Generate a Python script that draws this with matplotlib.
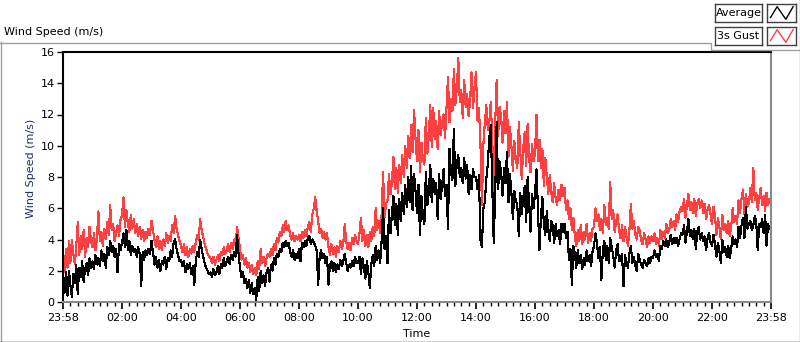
"""Wind speed chart: average and 3 s gust over one day."""

import numpy as np
import matplotlib
matplotlib.use("Agg")
import matplotlib.pyplot as plt
from matplotlib.lines import Line2D

W, H = 800, 342

# values, one row per hour, 3 minute steps from 23:58
GUST = [
    2.6, 1.9, 3.4, 2.2, 3.9, 2.5, 4.0, 3.1, 2.4, 3.6, 5.1, 3.0, 4.2, 3.4, 4.6, 2.9, 4.1, 3.5, 4.8, 3.9,
    3.5, 4.4, 3.3, 4.1, 5.8, 3.9, 4.5, 3.6, 4.7, 4.0, 5.1, 4.3, 6.2, 4.6, 5.0, 3.9, 4.4, 4.9, 4.2, 5.3,
    5.5, 6.7, 4.8, 5.9, 5.0, 4.5, 5.6, 4.7, 5.3, 4.4, 5.0, 4.2, 4.8, 4.0, 4.6, 3.9, 4.5, 4.1, 4.7, 4.3,
    5.2, 4.6, 4.0, 3.5, 4.2, 3.4, 3.9, 3.3, 4.0, 3.6, 4.4, 3.8, 4.2, 3.9, 4.9, 4.4, 5.5, 4.7, 4.3, 3.9,
    3.6, 3.2, 3.7, 3.0, 3.5, 2.9, 3.4, 3.1, 3.6, 3.2, 3.8, 4.3, 4.0, 5.3, 4.6, 4.2, 3.7, 3.4, 3.1, 2.9,
    2.8, 2.5, 2.9, 2.4, 2.7, 3.0, 2.6, 3.2, 3.0, 3.5, 3.1, 3.3, 3.7, 3.2, 3.8, 3.4, 4.0, 3.6, 4.8, 4.1,
    3.4, 2.7, 3.0, 2.4, 2.8, 2.2, 2.5, 1.9, 2.4, 1.8, 2.2, 1.7, 2.6, 2.1, 3.4, 2.5, 2.9, 2.3, 2.8, 3.1,
    2.9, 3.4, 3.0, 3.7, 3.3, 4.1, 3.8, 4.5, 4.2, 4.9, 4.5, 5.2, 4.6, 4.9, 4.3, 4.0, 4.4, 3.9, 4.2, 4.0,
    4.3, 3.9, 4.5, 4.1, 4.6, 4.2, 4.8, 5.1, 4.5, 5.6, 6.0, 6.7, 5.8, 5.2, 4.4, 4.7, 4.1, 4.5, 4.0, 4.4,
    3.5, 3.0, 3.7, 3.1, 3.5, 2.9, 3.6, 3.2, 3.9, 3.4, 3.7, 5.0, 3.9, 3.4, 3.8, 3.3, 4.1, 3.7, 4.3, 3.9,
    3.7, 4.4, 5.4, 3.9, 4.6, 3.6, 4.3, 3.5, 4.5, 3.9, 4.8, 4.2, 6.0, 4.6, 5.2, 4.4, 5.6, 8.3, 5.4, 6.3,
    6.5, 8.2, 6.9, 7.6, 9.3, 7.2, 8.6, 7.0, 8.8, 7.6, 9.4, 8.0, 10.0, 8.6, 10.6, 9.2, 11.3, 9.6, 12.3, 10.4,
    9.0, 11.0, 8.3, 10.2, 9.1, 8.8, 11.8, 9.5, 10.6, 12.6, 9.9, 12.4, 10.4, 11.6, 9.8, 12.2, 10.7, 11.4, 12.0, 10.5,
    12.4, 14.4, 11.5, 13.0, 12.2, 14.9, 12.6, 13.7, 15.6, 12.8, 13.6, 11.8, 14.2, 12.5, 13.3, 11.9, 12.9, 14.7, 12.4, 13.8,
    14.7, 11.6, 12.4, 10.2, 6.2, 10.1, 11.5, 12.6, 11.0, 11.5, 12.8, 10.6, 6.4, 11.4, 14.2, 10.6, 12.5, 11.9, 10.2, 12.2,
    10.8, 12.8, 9.3, 11.2, 10.0, 8.4, 10.3, 9.1, 8.6, 11.5, 9.7, 7.9, 9.8, 10.9, 8.7, 11.4, 9.2, 8.3, 10.1, 9.0,
    9.5, 12.0, 9.0, 10.4, 8.6, 9.8, 7.4, 9.2, 8.0, 6.9, 8.1, 7.0, 6.4, 7.6, 6.6, 6.2, 7.2, 6.5, 7.5, 6.8,
    7.3, 5.9, 6.5, 5.3, 6.0, 4.6, 5.4, 4.2, 3.6, 4.6, 3.9, 4.9, 3.7, 4.5, 4.0, 5.0, 3.8, 4.4, 3.9, 4.7,
    4.8, 6.0, 5.2, 5.6, 4.6, 5.3, 4.4, 6.2, 4.9, 5.4, 4.7, 7.7, 5.3, 5.9, 4.5, 5.1, 5.6, 4.6, 4.1, 4.9,
    3.9, 4.8, 4.2, 3.6, 4.6, 6.3, 4.7, 5.2, 4.3, 4.0, 4.8, 4.6, 3.9, 3.7, 4.4, 4.0, 3.5, 4.2, 3.8, 4.2,
    3.9, 4.4, 3.7, 4.1, 3.6, 4.6, 4.0, 4.5, 4.1, 5.0, 4.4, 4.6, 5.3, 4.8, 5.2, 4.6, 5.6, 5.1, 5.8, 6.1,
    5.8, 6.6, 5.4, 6.2, 6.9, 5.9, 6.4, 5.7, 6.6, 5.5, 6.3, 6.6, 6.0, 6.5, 5.7, 6.3, 5.3, 5.9, 6.2, 5.6,
    5.0, 6.1, 5.5, 4.3, 5.4, 4.8, 4.0, 5.6, 4.6, 5.0, 4.4, 5.2, 4.2, 4.8, 6.0, 5.1, 5.5, 5.0, 6.5, 5.7,
    6.6, 7.2, 5.6, 6.9, 6.1, 6.3, 7.3, 6.4, 8.6, 6.5, 7.0, 5.9, 6.7, 7.3, 6.2, 6.8, 5.8, 7.0, 6.2, 6.6, 6.4,
]

AVERAGE = [
    1.5, 0.6, 1.9, 0.4, 2.0, 1.1, 0.3, 1.8, 1.2, 2.4, 0.5, 2.2, 1.6, 2.6, 1.3, 2.1, 2.5, 1.7, 2.8, 2.2,
    2.6, 2.1, 3.0, 2.4, 2.8, 2.3, 3.3, 2.6, 3.1, 2.2, 3.5, 3.0, 3.9, 3.2, 3.6, 2.9, 3.4, 1.9, 3.7, 3.3,
    3.8, 4.4, 3.5, 4.6, 3.3, 3.9, 3.0, 3.6, 3.2, 3.4, 2.9, 3.5, 3.1, 1.0, 3.2, 2.7, 3.3, 3.0, 3.4, 3.1,
    3.9, 3.2, 2.4, 2.9, 2.2, 2.7, 2.0, 2.6, 2.4, 2.9, 2.1, 2.8, 2.6, 3.3, 2.9, 3.8, 4.0, 3.4, 3.0, 2.6,
    2.7, 2.3, 2.6, 1.9, 2.4, 2.1, 2.5, 1.8, 2.3, 1.1, 2.6, 3.2, 2.9, 4.0, 3.4, 2.9, 2.5, 2.2, 2.0, 1.8,
    1.9, 1.6, 2.1, 1.7, 1.9, 2.3, 1.8, 2.4, 2.2, 2.8, 2.3, 2.6, 2.9, 2.4, 3.0, 2.7, 3.2, 2.9, 4.3, 3.1,
    2.2, 1.6, 1.9, 1.2, 1.5, 0.9, 1.4, 0.6, 1.2, 0.5, 0.9, 0.1, 1.6, 0.7, 2.0, 1.2, 1.7, 1.0, 1.9, 2.2,
    1.3, 2.4, 2.0, 2.8, 2.4, 3.1, 2.9, 3.4, 3.2, 3.8, 3.5, 3.9, 3.6, 3.8, 3.2, 2.9, 3.3, 2.7, 3.1, 2.8,
    3.4, 2.6, 3.8, 3.5, 3.9, 3.6, 4.1, 4.2, 3.7, 4.0, 3.8, 3.6, 3.3, 1.1, 2.9, 3.3, 2.8, 3.1, 2.5, 2.9,
    1.1, 2.4, 2.6, 2.0, 2.5, 1.9, 2.4, 2.1, 2.7, 2.3, 2.6, 3.1, 2.5, 2.0, 2.4, 2.2, 2.6, 2.3, 2.9, 2.5,
    2.5, 2.9, 1.8, 2.8, 2.2, 1.5, 2.6, 1.9, 0.9, 2.4, 3.0, 2.3, 3.6, 2.7, 3.3, 2.5, 3.9, 6.0, 3.4, 4.2,
    2.5, 5.9, 4.4, 5.6, 6.8, 4.9, 6.3, 4.3, 6.6, 5.2, 7.0, 5.6, 7.5, 6.1, 8.0, 6.4, 8.7, 5.9, 8.2, 7.1,
    5.7, 7.5, 4.3, 6.8, 5.5, 5.0, 8.3, 6.2, 7.0, 8.8, 6.4, 7.9, 6.9, 7.6, 5.3, 8.2, 6.6, 7.4, 8.5, 6.8,
    7.5, 4.7, 9.8, 8.3, 7.8, 11.1, 7.4, 8.9, 9.4, 8.0, 8.6, 7.6, 9.2, 7.9, 8.8, 6.9, 8.1, 7.2, 8.5, 8.0,
    8.0, 7.2, 8.1, 4.0, 3.5, 6.0, 6.4, 7.9, 8.8, 10.5, 11.3, 7.5, 3.8, 6.8, 11.5, 7.2, 9.0, 8.3, 6.8, 8.6,
    7.6, 9.6, 6.4, 8.2, 7.0, 5.3, 7.1, 6.5, 6.2, 4.2, 7.0, 5.6, 6.6, 7.4, 5.1, 8.0, 6.2, 4.5, 6.9, 6.0,
    6.9, 8.5, 5.8, 3.3, 5.4, 6.7, 5.0, 4.3, 5.8, 4.6, 3.9, 5.2, 4.9, 3.8, 5.0, 4.2, 4.6, 3.7, 5.0, 4.5,
    5.0, 4.1, 4.5, 2.7, 3.4, 1.1, 3.6, 3.1, 2.2, 3.3, 2.5, 3.0, 2.1, 2.8, 2.4, 3.3, 2.6, 3.0, 2.3, 3.2,
    3.6, 4.4, 3.8, 2.8, 3.5, 1.4, 3.3, 3.9, 2.7, 3.6, 2.5, 4.1, 3.5, 3.0, 2.2, 3.3, 3.7, 2.6, 2.7, 3.1,
    1.0, 3.0, 2.6, 2.2, 3.1, 3.6, 2.5, 2.9, 2.3, 2.0, 3.1, 2.7, 2.4, 2.2, 2.7, 2.5, 2.3, 2.8, 2.5, 2.9,
    2.8, 3.3, 2.9, 3.1, 2.6, 3.6, 3.4, 3.9, 3.6, 4.0, 3.5, 3.8, 4.3, 3.7, 4.1, 3.8, 4.1, 3.6, 4.0, 4.4,
    4.3, 4.9, 3.8, 4.5, 5.3, 4.2, 4.6, 4.0, 4.7, 3.4, 4.5, 4.8, 4.0, 4.4, 3.9, 4.2, 3.3, 4.1, 4.4, 3.8,
    3.6, 4.3, 3.7, 2.9, 3.8, 3.3, 2.5, 4.0, 3.2, 3.5, 2.9, 3.6, 2.8, 3.4, 4.2, 3.7, 4.0, 3.5, 4.8, 4.1,
    4.9, 5.4, 4.1, 6.1, 4.7, 5.0, 5.2, 4.6, 4.9, 5.5, 5.1, 3.3, 5.0, 4.8, 5.3, 4.4, 5.6, 3.6, 5.0, 4.7, 4.9,
]

# minutes after midnight, starting 23:58 the day before
MINUTES = np.arange(len(GUST)) * 3 - 2

TICK_MINUTES = np.arange(13) * 120 - 2
TICK_LABELS = ["23:58", "02:00", "04:00", "06:00", "08:00", "10:00", "12:00",
               "14:00", "16:00", "18:00", "20:00", "22:00", "23:58"]
Y_TICKS = [0, 2, 4, 6, 8, 10, 12, 14, 16]

SERIES = ["Average", "3s Gust"]
COLORS = {"Average": "#000000", "3s Gust": "#ff4040"}


def px(x0, y0, x1, y1):
    """Pixel box (top-left origin) -> figure fraction rect."""
    return [x0 / W, 1 - y1 / H, (x1 - x0) / W, (y1 - y0) / H]


def fig_line(fig, xs, ys, color, lw=1.0):
    fig.add_artist(Line2D([x / W for x in xs], [1 - y / H for y in ys],
                          transform=fig.transFigure, color=color, lw=lw))


def main():
    plt.rcParams["font.family"] = ["DejaVu Sans"]
    plt.rcParams["font.size"] = 8

    fig = plt.figure(figsize=(W / 100, H / 100), dpi=100)
    fig.patch.set_facecolor("white")

    # outer panel frame
    fig_line(fig, [0, 711, 711, 800], [42.5, 42.5, 49.5, 49.5], "#a0a0a0")
    fig_line(fig, [0.5, 0.5], [42, 342], "#a0a0a0")
    fig_line(fig, [0, 800], [341.5, 341.5], "#202020")
    fig_line(fig, [799.5, 799.5], [0, 342], "#a0a0a0")

    fig.text(4 / W, 1 - 32 / H, "Wind Speed (m/s)", ha="left", va="center",
             fontsize=8, color="#000000")

    ax = fig.add_axes(px(63, 52, 771, 302))
    n = min(len(GUST), len(AVERAGE), len(MINUTES))
    ax.plot(MINUTES[:n], GUST[:n], color=COLORS["3s Gust"], lw=0.8,
            antialiased=False)
    ax.plot(MINUTES[:n], AVERAGE[:n], color=COLORS["Average"], lw=0.8,
            antialiased=False)

    ax.set_xlim(-2, 1438)
    ax.set_ylim(0, 16)
    ax.set_yticks(Y_TICKS)
    ax.set_yticklabels([str(v) for v in Y_TICKS])
    ax.set_xticks(TICK_MINUTES)
    ax.set_xticklabels(TICK_LABELS)
    ax.set_xticks(np.arange(-2, 1438, 15), minor=True)

    ax.tick_params(axis="y", direction="out", length=4, width=1, pad=2,
                   labelsize=8, colors="#000000")
    ax.tick_params(axis="x", which="major", direction="out", length=5,
                   width=1.2, pad=3, labelsize=8)
    ax.tick_params(axis="x", which="minor", direction="out", length=3, width=1)

    for side in ("left", "top"):
        ax.spines[side].set_color("#000000")
        ax.spines[side].set_linewidth(1.5)
    for side in ("right", "bottom"):
        ax.spines[side].set_color("#8a8a8a")
        ax.spines[side].set_linewidth(1.5)

    ax.set_xlabel("Time", fontsize=8, labelpad=4)
    fig.text(31 / W, 1 - 168 / H, "Wind Speed (m/s)", rotation=90,
             ha="center", va="center", fontsize=8, color="#1c2f6b")

    # legend: label box + small line icon per series
    for i, name in enumerate(SERIES):
        top = 4 + 23 * i
        lab = fig.add_axes(px(715, top, 762, top + 18))
        lab.set_xticks([])
        lab.set_yticks([])
        for s in lab.spines.values():
            s.set_color("#404040")
            s.set_linewidth(1.0)
        lab.text(0.5, 0.5, name, ha="center", va="center", fontsize=8,
                 transform=lab.transAxes)

        icon = fig.add_axes(px(767, top, 796, top + 18))
        icon.set_xticks([])
        icon.set_yticks([])
        for s in icon.spines.values():
            s.set_color("#404040")
            s.set_linewidth(1.0)
        icon.plot([0.12, 0.35, 0.65, 0.9], [0.25, 0.85, 0.15, 0.85],
                  color=COLORS[name], lw=1.0, transform=icon.transAxes)

    fig.savefig("out.png", dpi=100)
    plt.close(fig)


if __name__ == "__main__":
    main()
